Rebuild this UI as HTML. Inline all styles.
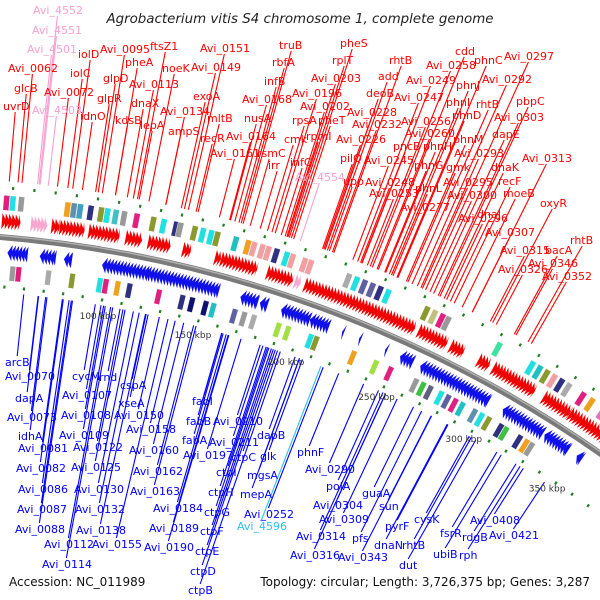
<!DOCTYPE html>
<html><head><meta charset="utf-8"><style>
html,body{margin:0;padding:0;background:#fff;}
svg{display:block;}
text{font-family:"DejaVu Sans","Liberation Sans",sans-serif;}
</style></head><body>
<svg id="map" width="600" height="600" viewBox="0 0 600 600" xmlns="http://www.w3.org/2000/svg">
<rect width="600" height="600" fill="#fff"/>
<g id="lines"></g>
<g id="feats"></g>
<g id="labels"></g>
<text x="300" y="23" text-anchor="middle" font-size="13.4" font-style="italic" fill="#222">Agrobacterium vitis S4 chromosome 1, complete genome</text>
<text x="9" y="586" font-size="12" fill="#111">Accession: NC_011989</text>
<text x="590" y="586" text-anchor="end" font-size="12" fill="#111">Topology: circular; Length: 3,726,375 bp; Genes: 3,287</text>
</svg>
<script>
const fwdSegments=[[56,65],[80,84],[84,96],[98,113],[116,124],[127,138],[144,148],[160,163],[163,181],[186,199],[205,262],[264,279],[281,288],[296,302],[304,327],[332,347],[347,370]];
const fwdPinkSegments=[[70,78],[200,203]];
const revSegments=[[60,70],[76,84],[88,92],[107,130],[129,166],[177,186],[187,191],[198,213],[213,223],[230,231],[239,240],[253,254],[261,268],[272,310],[318,341],[342,356],[361,364]];
const outerBlocks=[[56,'#e0207f'],[59,'#20e0e0'],[63,'#999'],[85,'#f0a020'],[88,'#6090b0'],[91,'#40a0c0'],[96,'#303080'],[101,'#8a9a30'],[104,'#20e0e0'],[108,'#40c0c0'],[112,'#999'],[118,'#e0207f'],[126,'#8a9a30'],[131,'#20e0e0'],[137,'#303080'],[139,'#999'],[146,'#8a9a30'],[150,'#20e0e0'],[154,'#20e0e0'],[157,'#8a9a30'],[166,'#20c0c0'],[172,'#f0a020'],[175,'#f0a0a0'],[179,'#f0a0a0'],[182,'#f0a0a0'],[186,'#303080'],[191,'#20e0e0'],[194,'#f0a0a0'],[200,'#f0a0a0'],[203,'#f0a0a0'],[222,'#aaa'],[226,'#20e0e0'],[230,'#6060a0'],[234,'#6060a0'],[238,'#303080'],[242,'#20e0e0'],[262,'#8a9a30'],[266,'#c0c080'],[270,'#e0207f'],[273,'#999'],[300,'#40e0a0'],[318,'#20e0e0'],[322,'#20c0c0'],[326,'#8a9a30'],[330,'#f0a0a0'],[334,'#303080'],[338,'#aaa'],[346,'#e0207f'],[351,'#f0a020'],[358,'#e070c0'],[362,'#aaa'],[366,'#999']];
const innerBlocks=[[62,'#999'],[65,'#e0207f'],[80,'#aaa'],[92,'#8a9a30'],[106,'#20e0e0'],[109,'#e0207f'],[115,'#f0a020'],[121,'#303080'],[136,'#e0207f'],[148,'#303080'],[153,'#101070'],[160,'#101070'],[164,'#20c0c0'],[175,'#6060a0'],[180,'#999'],[185,'#aaa'],[198,'#a0e040'],[203,'#a0e040'],[215,'#20e0e0'],[218,'#8a9a30'],[238,'#f0a020'],[250,'#a0e040'],[258,'#e0207f'],[272,'#999'],[276,'#40c040'],[280,'#606080'],[286,'#20e0e0'],[290,'#6060a0'],[294,'#e0207f'],[298,'#20c0c0'],[305,'#6090b0'],[309,'#20e0e0'],[313,'#8a9a30'],[320,'#303080'],[323,'#40c040'],[331,'#303080'],[335,'#f0a020'],[338,'#999']];
const tickKbp=[100,150,200,250,300,350];
const tickLabels=['100 kbp','150 kbp','200 kbp','250 kbp','300 kbp','350 kbp'];
const redLabels=[['Avi_0062',8,68],['glcB',14,88],['uvrD',3,106],['iolD',78,54],['iolC',70,73],['Avi_0072',44,92],['idnO',80,116],['Avi_0095',100,49],['glpD',103,78],['glpR',97,98],['pheA',125,62],['Avi_0113',129,84],['dnaX',131,103],['kdsB',115,120],['lepA',140,125],['ftsZ1',150,46],['noeK',162,68],['Avi_0134',160,111],['ampS',168,131],['Avi_0151',200,48],['Avi_0149',191,67],['exoA',193,96],['mltB',207,118],['recR',200,138],['Avi_0161',210,153],['Avi_0164',226,136],['Avi_0168',242,99],['nusA',244,118],['rsmC',257,153],['irr',268,165],['infB',264,81],['rbfA',272,62],['truB',279,45],['pheS',340,43],['rplT',332,60],['Avi_0203',311,78],['Avi_0196',292,93],['Avi_0202',300,106],['rpsA',292,120],['pheT',318,120],['cmk',284,139],['rpmI',306,136],['infC',290,162],['Avi_0226',336,139],['Avi_0228',347,112],['Avi_0232',352,124],['deoB',366,93],['add',378,76],['rhtB',389,60],['pilQ',340,158],['upp',343,181],['Avi_0245',364,160],['Avi_0248',365,182],['Avi_0253',369,193],['Avi_0247',394,97],['Avi_0256',401,121],['Avi_0260',405,133],['Avi_0249',406,80],['Avi_0258',426,65],['cdd',455,51],['pncB',393,146],['phnH',423,146],['phnG',414,165],['phnL',415,188],['phnJ',456,85],['phnI',446,102],['phnD',452,115],['phnC',474,60],['phnM',453,139],['Avi_0293',454,153],['gmk',446,167],['Avi_0295',443,182],['Avi_0300',447,195],['rhtB',476,104],['Avi_0292',482,79],['Avi_0297',504,56],['pbpC',516,101],['Avi_0303',494,117],['dapE',492,134],['Avi_0313',522,158],['dnaK',491,167],['recF',498,181],['moeB',503,193],['Avi_0277',400,207],['Avi_0296',458,218],['dnaJ',477,214],['Avi_0307',485,232],['Avi_0315',500,250],['oxyR',540,203],['bacA',545,250],['Avi_0346',528,263],['Avi_0326',498,269],['Avi_0352',542,276],['rhtB',570,240]];
const pinkLabels=[['Avi_4552',33,10],['Avi_4551',32,30],['Avi_4501',27,49],['Avi_4503',32,110],['Avi_4554',295,177]];
const blueLabels=[['arcB',5,362],['Avi_0070',5,376],['dapA',15,398],['Avi_0073',7,417],['idhA',18,436],['Avi_0081',18,448],['Avi_0082',16,468],['Avi_0086',18,489],['Avi_0087',17,509],['Avi_0088',15,529],['Avi_0112',44,544],['Avi_0114',42,564],['cycM',72,376],['rnd',99,377],['Avi_0107',62,395],['Avi_0108',61,415],['Avi_0109',59,435],['Avi_0122',73,447],['Avi_0125',71,467],['Avi_0130',74,489],['Avi_0132',75,509],['Avi_0138',76,530],['Avi_0155',92,544],['cspA',120,385],['xseA',118,403],['Avi_0150',114,415],['Avi_0158',126,429],['Avi_0160',129,450],['Avi_0162',133,471],['Avi_0163',130,491],['Avi_0184',153,508],['Avi_0189',149,528],['Avi_0190',144,547],['fabI',192,401],['fabB',186,421],['fabA',182,440],['Avi_0197',183,455],['Avi_0210',213,421],['Avi_0211',209,442],['ctpC',231,457],['ctpI',216,472],['ctpH',208,492],['ctpG',204,512],['ctpF',200,531],['ctpE',195,551],['ctpD',190,571],['ctpB',188,590],['dapB',257,435],['glk',260,456],['mgsA',247,475],['mepA',240,494],['Avi_0252',244,514],['phnF',297,452],['Avi_0290',305,469],['polA',326,486],['guaA',362,493],['Avi_0304',313,505],['Avi_0309',319,519],['sun',379,506],['Avi_0314',296,536],['Avi_0316',290,555],['pfs',352,538],['Avi_0343',338,557],['pyrF',385,526],['cysK',414,519],['dnaN',374,545],['rhtB',402,545],['dut',399,565],['fsrR',440,533],['ubiB',433,554],['Avi_0408',470,520],['rdgB',462,537],['Avi_0421',489,535],['rph',459,555]];
const cyanLabels=[['Avi_4596',237,526]];

const NS='http://www.w3.org/2000/svg';
const CX=-99, CY=1452, R=1219, DEG=0.0966, K0=7.5;
function ang(k){return (k-K0)*DEG*Math.PI/180;}
function P(k,r){const a=ang(k);return [CX+r*Math.sin(a),CY-r*Math.cos(a)];}
function mk(tag,attrs,parent){const e=document.createElementNS(NS,tag);for(const k in attrs)e.setAttribute(k,attrs[k]);parent.appendChild(e);return e;}
const feats=document.getElementById('feats'), lines=document.getElementById('lines'), labels=document.getElementById('labels');

function arcPath(r,k1,k2){const a=P(k1,r),b=P(k2,r);return `M${a[0]},${a[1]} A${r},${r} 0 0 1 ${b[0]},${b[1]}`;}
let bb=mk('path',{d:arcPath(R,40,390),stroke:'#7a7a7a','stroke-width':6,fill:'none'},feats);


let bb2=mk('path',{d:arcPath(R+1.5,40,390),stroke:'#b0b0b0','stroke-width':1.5,fill:'none'},feats);



function saw(seg,rc,dir,color){
  const [s,e]=seg; const step=1.6; let k=s;
  while(k<e-0.2){
    const k2=Math.min(k+step*1.4,e);
    let pts;
    if(dir>0){const a=P(k,rc+8),b=P(k,rc-8),t=P(k2,rc);pts=[a,t,b];}
    else{const a=P(k2,rc+8),b=P(k2,rc-8),t=P(k,rc);pts=[a,t,b];}
    const p=mk('polygon',{points:pts.map(q=>q.join(',')).join(' '),fill:color},feats);
    
    
    k+=step;
  }
}
fwdSegments.forEach(s=>saw(s,R+16,1,'#f00000'));
fwdPinkSegments.forEach(s=>saw(s,R+16,1,'#f8a8d0'));
revSegments.forEach(s=>saw(s,R-15,-1,'#1010e8'));

function block(k,color,r1,r2){
  const a=P(k,r1),b=P(k+2.8,r1),c=P(k+2.8,r2),d=P(k,r2);
  const p=mk('polygon',{points:[a,b,c,d].map(q=>q.join(',')).join(' '),fill:color,stroke:'#fff','stroke-width':0.4},feats);
  
  
}
outerBlocks.forEach(b=>block(b[0],b[1],R+27,R+42));
innerBlocks.forEach(b=>block(b[0],b[1],R-28,R-43));

for(let k=40;k<=390;k+=10){
  [[R+48,R+51],[R-48,R-51]].forEach(rr=>{
    const a=P(k,rr[0]),b=P(k,rr[1]);
    const l=mk('line',{x1:a[0],y1:a[1],x2:b[0],y2:b[1],stroke:'#208020','stroke-width':2.2},feats);
    
    
  });
}
tickKbp.forEach((k,i)=>{
  const p=P(k,R-69);
  const t=mk('text',{x:p[0],y:p[1]+3,'font-size':9,fill:'#333'},labels);
  t.textContent=tickLabels[i];
  
  
});

function radialLine(x,y,rEnd,color){
  const dx=x-CX, dy=y-CY; const r0=Math.hypot(dx,dy);
  const ex=CX+dx*rEnd/r0, ey=CY+dy*rEnd/r0;
  const l=mk('line',{x1:x,y1:y,x2:ex,y2:ey,stroke:color,'stroke-width':1.1},lines);
  
  
}
function drawLabels(arr,color,up){
  arr.forEach(d=>{
    const [name,x,y]=d; const w=name.length*6.1;
    const t=mk('text',{x:x,y:y+4,'font-size':11,fill:color,'font-family':'Liberation Sans, sans-serif'},labels);
    t.textContent=name;
    
    
    if(up) radialLine(x+w/2,y+6,R+56,color);
    else radialLine(x+w/2,y-6,R-55,color);
  });
}
drawLabels(redLabels,'#ff0000',true);
drawLabels(pinkLabels,'#f8a0d0',true);
drawLabels(blueLabels,'#0000ff',false);
drawLabels(cyanLabels,'#30c0f0',false);
</script>
</body></html>
